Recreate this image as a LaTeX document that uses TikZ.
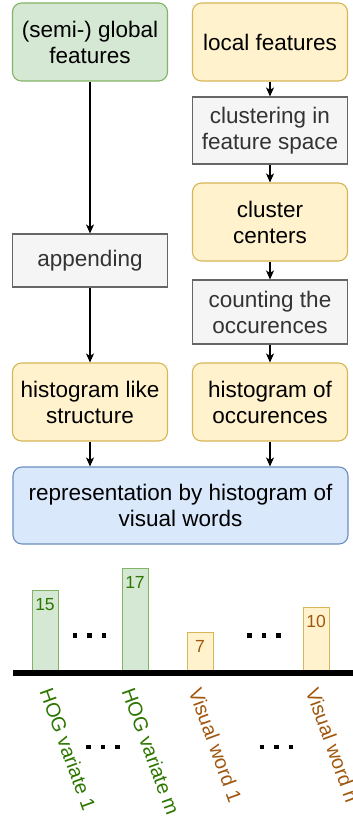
\documentclass[tikz,border=0pt]{standalone}
\usepackage{fontspec}
\setmainfont{Liberation Sans}
\usetikzlibrary{arrows.meta}

\definecolor{gfill}{HTML}{D5E8D4}
\definecolor{gdraw}{HTML}{82B366}
\definecolor{yfill}{HTML}{FFF2CC}
\definecolor{ydraw}{HTML}{D6B656}
\definecolor{grfill}{HTML}{F5F5F5}
\definecolor{grdraw}{HTML}{666666}
\definecolor{grtext}{HTML}{333333}
\definecolor{bfill}{HTML}{DAE8FC}
\definecolor{bdraw}{HTML}{6C8EBF}
\definecolor{hogtext}{HTML}{2D7600}
\definecolor{wordtext}{HTML}{A0570F}

\tikzstyle{box}=[draw,line width=1.1pt,align=center,inner sep=2pt,minimum width=155pt,font=\fontsize{22.5}{26}\selectfont]
\tikzstyle{greenbox}=[box,rounded corners=9pt,fill=gfill,draw=gdraw,minimum height=78pt]
\tikzstyle{yellowbox}=[box,rounded corners=9pt,fill=yfill,draw=ydraw,minimum height=78pt]
\tikzstyle{graybox}=[box,fill=grfill,draw=grdraw,text=grtext]
\tikzstyle{bluebox}=[box,rounded corners=9pt,fill=bfill,draw=bdraw,minimum width=335pt,minimum height=77pt]
\tikzstyle{arr}=[line width=1.1pt,-{Stealth[length=9pt,width=8pt,inset=2.5pt]}]
\tikzstyle{hogbar}=[draw=gdraw,fill=gfill,line width=1pt,minimum width=26pt,anchor=south,inner sep=0]
\tikzstyle{wordbar}=[draw=ydraw,fill=yfill,line width=1pt,minimum width=26pt,anchor=south,inner sep=0]
\tikzstyle{hognum}=[text=hogtext,anchor=north,inner sep=0,yshift=-8pt,font=\fontsize{17.5}{17.5}\selectfont]
\tikzstyle{wordnum}=[hognum,text=wordtext]
\tikzstyle{hoglabel}=[text=hogtext,rotate=-70,anchor=west,inner sep=0,font=\fontsize{20}{20}\selectfont]
\tikzstyle{wordlabel}=[hoglabel,text=wordtext]

\begin{document}
\begin{tikzpicture}[x=1pt,y=-1pt]
            \useasboundingbox (0,0) rectangle (353,821);
            \node (glob) at (90,42) [greenbox] {(semi-) global\\features};
            \node (loc) at (270,42) [yellowbox] {local features};
            \node (clust) at (270,130.5) [graybox,minimum height=67pt] {clustering in\\feature space};
            \node (cent) at (270,222) [yellowbox] {cluster\\centers};
            \node (app) at (90,260.5) [graybox,minimum height=53pt] {appending};
            \node (count) at (270,312) [graybox,minimum height=64pt] {counting the\\occurences};
            \node (histl) at (90,402) [yellowbox] {histogram like\\structure};
            \node (histo) at (270,402) [yellowbox] {histogram of\\occurences};
            \node (repr) at (180.5,505.5) [bluebox] {representation by histogram of\\visual words};
            \draw[arr] (glob) -- (app);
            \draw[arr] (app) -- (histl);
            \draw[arr] (loc) -- (clust);
            \draw[arr] (clust) -- (cent);
            \draw[arr] (cent) -- (count);
            \draw[arr] (count) -- (histo);
            \draw[arr] (histl) -- (histl |- repr.north);
            \draw[arr] (histo) -- (histo |- repr.north);

            \node (b1) at (45,672) [hogbar,minimum height=81pt] {};
            \node (b2) at (135,672) [hogbar,minimum height=103pt] {};
            \node (b3) at (200,672) [wordbar,minimum height=39pt] {};
            \node (b4) at (316,672) [wordbar,minimum height=64pt] {};
            \node at (b1.north) [hognum] {15};
            \node at (b2.north) [hognum] {17};
            \node at (b3.north) [wordnum] {7};
            \node at (b4.north) [wordnum] {10};
            \draw[line width=6pt] (13,672.5) -- (353,672.5);
            \foreach \x/\y in {75/635.5,249.5/635.5,88.5/747,262/747}
                \foreach \d in {0,14.5,29}
                    \fill (\x+\d-2.2,\y-2.2) rectangle ++(4.4,4.4);
            \node at (46,689) [hoglabel] {HOG variate 1};
            \node at (128,688.5) [hoglabel] {HOG variate m};
            \node at (195,688.5) [wordlabel] {Visual word 1};
            \node at (312,688.5) [wordlabel] {Visual word n};
        \end{tikzpicture}
\end{document}
